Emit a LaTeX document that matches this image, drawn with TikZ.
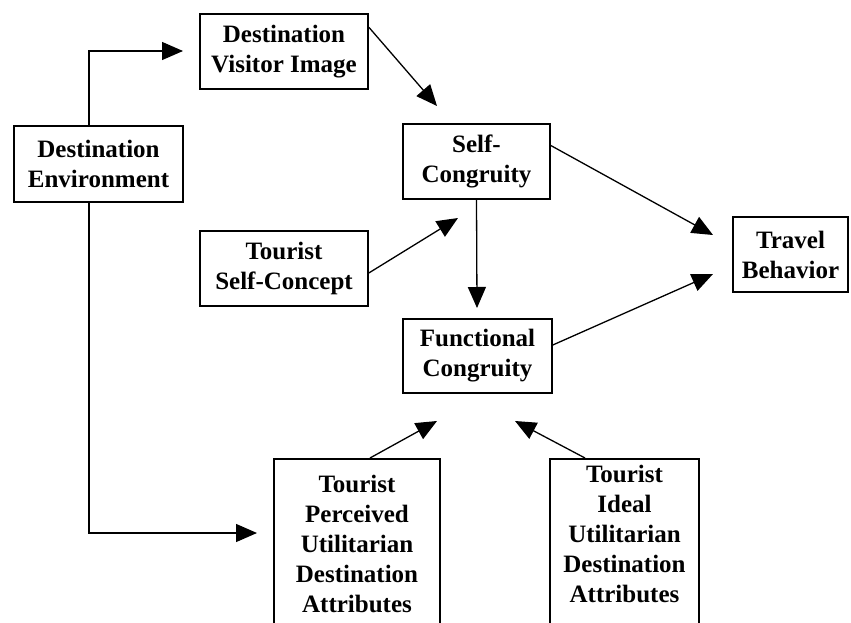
\documentclass[tikz,border=0pt]{standalone}
\usepackage{fontspec}
\setmainfont{Liberation Serif}
\usetikzlibrary{arrows.meta}
\begin{document}
\begin{tikzpicture}[x=1pt,y=-1pt,
  box/.style={draw, line width=1.6pt, inner sep=0pt, align=center, font=\bfseries\fontsize{25}{30}\selectfont},
  lbl/.style={inner sep=0pt, align=center, font=\bfseries\fontsize{25}{30}\selectfont},
  arr/.style={line width=1.3pt, -{Triangle[length=21pt,width=18pt]}}]
\useasboundingbox (0,0) rectangle (851,623);
\clip (0,0) rectangle (851,623);
\fill[white] (0,0) rectangle (851,623);
% boxes
\node[box, minimum width=168pt, minimum height=75pt] (dvi) at (284,51.5) {Destination\\Visitor Image};
\node[box, minimum width=169pt, minimum height=76pt] (de) at (98.5,164) {Destination\\Environment};
\node[box, minimum width=168pt, minimum height=75pt] (tsc) at (284,268.5) {Tourist\\Self-Concept};
\node[box, minimum width=147pt, minimum height=75pt] (sc) at (476.5,161.5) {Self-\\Congruity};
\node[box, minimum width=149pt, minimum height=74pt] (fc) at (477.5,356) {Functional\\Congruity};
\node[box, minimum width=115pt, minimum height=75pt] (tb) at (790.5,254.5) {Travel\\Behavior};
\node[box, minimum width=166pt, minimum height=250pt, anchor=north] (tp) at (357,458) {};
\node[lbl, anchor=north] (tpt) at (357,475) {Tourist\\Perceived\\Utilitarian\\Destination\\Attributes};
\node[box, minimum width=149pt, minimum height=250pt, anchor=north] (ti) at (624.5,458) {};
\node[lbl, anchor=north] (tit) at (624.5,465) {Tourist\\Ideal\\Utilitarian\\Destination\\Attributes};
% arrow end points
\coordinate (e1) at (183,51);
\coordinate (e2) at (257,533);
\coordinate (e3) at (437,106);
\coordinate (e4) at (458,218);
\coordinate (e5) at (477,308);
\coordinate (e6) at (713,235);
\coordinate (e7) at (713,274);
\coordinate (e8) at (437,421);
\coordinate (e9) at (515,421);
% connectors
\draw[arr] ([xshift=-9.5pt]de.north) |- (e1);
\draw[arr] ([xshift=-9.5pt]de.south) |- (e2);
\draw[arr] ([yshift=-14pt]dvi.north east) -- (e3);
\draw[arr] ([yshift=-4.5pt]tsc.east) -- (e4);
\draw[arr] (sc.south) -- (e5);
\draw[arr] ([yshift=16pt]sc.east) -- (e6);
\draw[arr] ([yshift=11pt]fc.east) -- (e7);
\draw[arr] ([xshift=13pt]tp.north) -- (e8);
\draw[arr] ([xshift=-39.5pt]ti.north) -- (e9);
\end{tikzpicture}
\end{document}
